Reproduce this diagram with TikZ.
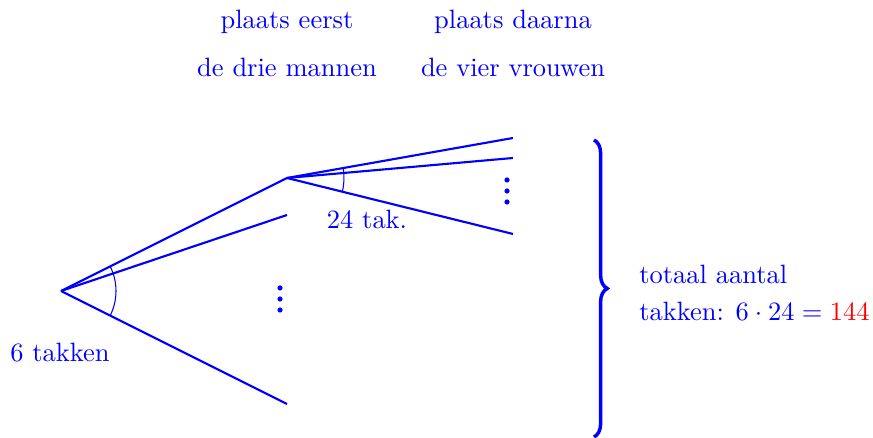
\documentclass[tikz,border=0pt]{standalone}
\usetikzlibrary{decorations.pathreplacing}
\begin{document}
\begin{tikzpicture}[x=0.01327cm,y=-0.01327cm,blue]
  \useasboundingbox (0,0) rectangle (873,438);
  % root and branch ends
  \coordinate (r) at (61,291);
  \coordinate (m1) at (287,178);
  \coordinate (m2) at (287,215);
  \coordinate (m3) at (287,404);
  \coordinate (v1) at (513,138);
  \coordinate (v2) at (513,158);
  \coordinate (v3) at (513,234);
  \foreach \e in {m1,m2,m3}
    \draw[thick] (r) -- (\e);
  \foreach \e in {v1,v2,v3}
    \draw[thick] (m1) -- (\e);
  \draw (r) ++(-26.6:55) arc[start angle=-26.6, end angle=26.6, radius=55];
  \draw (m1) ++(-10:57) arc[start angle=-10, end angle=13.9, radius=57];
  \foreach \y in {288,299,310}
    \fill (280,\y) circle (2.6);
  \foreach \y in {180,191,202}
    \fill (507,\y) circle (2.6);
  \node (t1) at (287,22) {plaats eerst};
  \node (t2) at (287,67) {de drie mannen};
  \node (t3) at (513,22) {plaats daarna};
  \node (t4) at (513,67) {de vier vrouwen};
  \node (lab24) at (367,219) {24 tak.};
  \node (lab6) at (60,353) {6 takken};
  \draw[line width=1.3pt, decorate, decoration={brace, amplitude=5}]
    (594,140) -- (594,437);
  \node[anchor=west] (tot1) at (630,274) {totaal aantal};
  \node[anchor=west] (tot2) at (630,311) {takken: $6\cdot24=\textcolor{red}{144}$};
\end{tikzpicture}
\end{document}
